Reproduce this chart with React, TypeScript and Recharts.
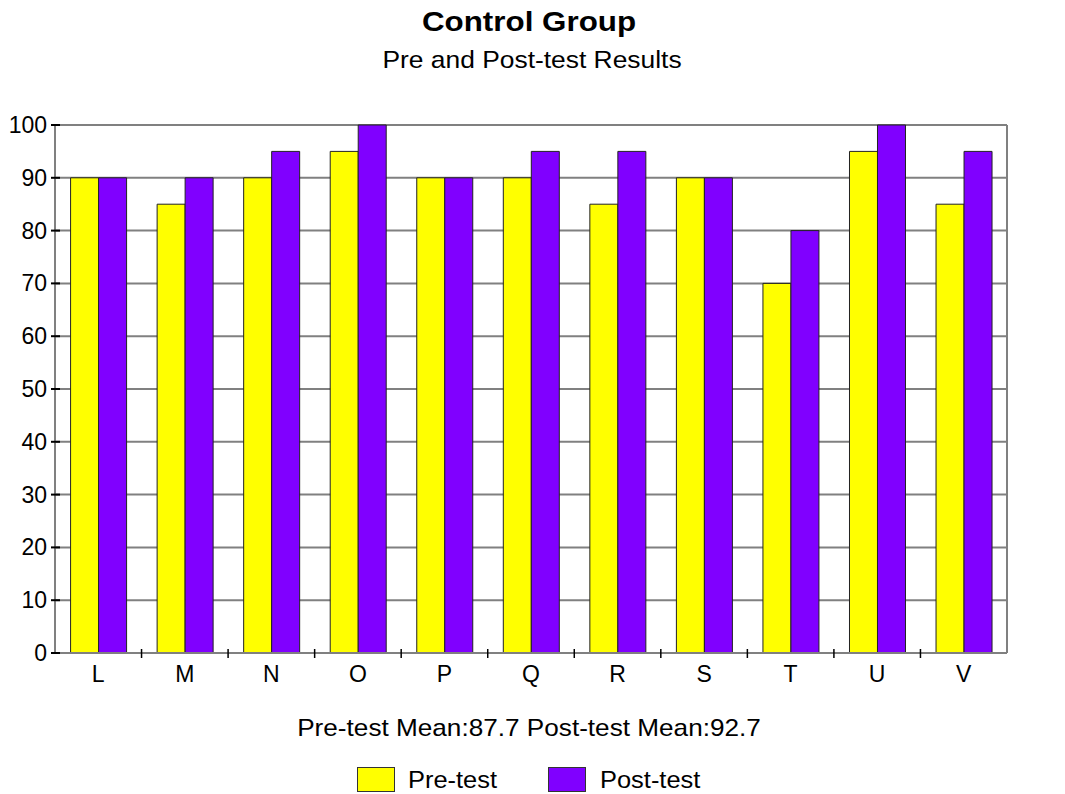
import React from 'react';
import { BarChart, Bar, XAxis, YAxis, CartesianGrid } from 'recharts';

const categories = ['L', 'M', 'N', 'O', 'P', 'Q', 'R', 'S', 'T', 'U', 'V'];
const preTest = [90, 85, 90, 95, 90, 90, 85, 90, 70, 95, 85];
const postTest = [90, 90, 95, 100, 90, 95, 95, 90, 80, 100, 95];
const yTicks = [0, 10, 20, 30, 40, 50, 60, 70, 80, 90, 100];
const seriesNames = ['Pre-test', 'Post-test'];
const seriesColors = ['#FFFF00', '#8000FF'];
const titleText = 'Control Group';
const subtitleText = 'Pre and Post-test Results';
const meanText = 'Pre-test Mean:87.7 Post-test Mean:92.7';

const data = categories.map((c, i) => ({ name: c, pre: preTest[i], post: postTest[i] }));

const W = 1065;
const H = 794;
const FONT = '"Liberation Sans", Arial, sans-serif';
const PLOT_LEFT = 55;
const PLOT_RIGHT = 1007;
const HALF_BAND = (PLOT_RIGHT - PLOT_LEFT) / categories.length / 2;

const SText = (props: any) => {
  const { x, y, sx = 1, anchor = 'middle', size, bold, children } = props;
  return (
    <g transform={`translate(${x},${y}) scale(${sx},1)`}>
      <text x={0} y={0} textAnchor={anchor} fontSize={size} fontWeight={bold ? 'bold' : 'normal'} fontFamily={FONT} fill="#000">
        {children}
      </text>
    </g>
  );
};

const XTick = (props: any) => {
  const { x, y, payload, index } = props;
  return (
    <g>
      <text x={x} y={y + 29} textAnchor="middle" fontSize={23} fontFamily={FONT} fill="#000">
        {payload.value}
      </text>
      {index < categories.length - 1 && (
        <line x1={x + HALF_BAND} x2={x + HALF_BAND} y1={y - 4} y2={y + 5} stroke="#000" strokeWidth={1.5} />
      )}
    </g>
  );
};

const YTickLeft = (props: any) => {
  const { x, y, payload } = props;
  return (
    <g>
      <line x1={x - 4} x2={x + 5} y1={y} y2={y} stroke="#000" strokeWidth={2} />
      <text x={x - 8} y={y + 8} textAnchor="end" fontSize={23} fontFamily={FONT} fill="#000">
        {payload.value}
      </text>
    </g>
  );
};

const YTickRight = (props: any) => {
  const { x, y, payload } = props;
  return (
    <g>
      <line x1={x - 4} x2={x + 5} y1={y} y2={y} stroke="#000" strokeWidth={2} />
      <text x={x + 6} y={y + 8} textAnchor="start" fontSize={23} fontFamily={FONT} fill="#000">
        {payload.value}
      </text>
    </g>
  );
};

export default function App() {
  return (
    <div style={{ position: 'absolute', left: 0, top: 0, width: W, height: H, background: '#fff' }}>
      <svg style={{ position: 'absolute', left: 0, top: 0 }} width={W} height={H}>
        <SText x={529} y={31} size={28} bold sx={1.12}>{titleText}</SText>
        <SText x={532} y={68} size={24} sx={1.1}>{subtitleText}</SText>
        <SText x={529} y={736} size={24} sx={1.09}>{meanText}</SText>
        <rect x={357.5} y={767.5} width={37} height={24} fill={seriesColors[0]} stroke="#333" strokeWidth={1} />
        <SText x={408} y={788} size={24} sx={1.06} anchor="start">{seriesNames[0]}</SText>
        <rect x={548.5} y={767.5} width={37} height={24} fill={seriesColors[1]} stroke="#333" strokeWidth={1} />
        <SText x={600} y={788} size={24} sx={1.06} anchor="start">{seriesNames[1]}</SText>
      </svg>
      <div style={{ position: 'absolute', left: 0, top: 0 }}>
        <BarChart
          width={W}
          height={H}
          data={data}
          margin={{ top: 125, right: 0, bottom: 111, left: 0 }}
          barCategoryGap="18%"
          barGap={0}
        >
          <CartesianGrid yAxisId="left" horizontal vertical={false} stroke="#808080" strokeWidth={2} />
          <XAxis
            dataKey="name"
            height={30}
            tickLine={false}
            tickSize={0}
            tickMargin={0}
            interval={0}
            axisLine={{ stroke: '#808080', strokeWidth: 2 }}
            tick={<XTick />}
          />
          <YAxis
            yAxisId="left"
            orientation="left"
            width={55}
            domain={[0, 100]}
            ticks={yTicks}
            interval={0}
            tickLine={false}
            tickSize={0}
            tickMargin={0}
            axisLine={{ stroke: '#808080', strokeWidth: 2 }}
            tick={<YTickLeft />}
          />
          <YAxis
            yAxisId="right"
            orientation="right"
            width={58}
            domain={[0, 100]}
            ticks={yTicks}
            interval={0}
            tickLine={false}
            tickSize={0}
            tickMargin={0}
            axisLine={{ stroke: '#808080', strokeWidth: 2 }}
            tick={<YTickRight />}
          />
          <Bar yAxisId="left" dataKey="pre" name={seriesNames[0]} fill={seriesColors[0]} stroke="#222" strokeWidth={1} isAnimationActive={false} />
          <Bar yAxisId="left" dataKey="post" name={seriesNames[1]} fill={seriesColors[1]} stroke="#222" strokeWidth={1} isAnimationActive={false} />
        </BarChart>
      </div>
    </div>
  );
}
